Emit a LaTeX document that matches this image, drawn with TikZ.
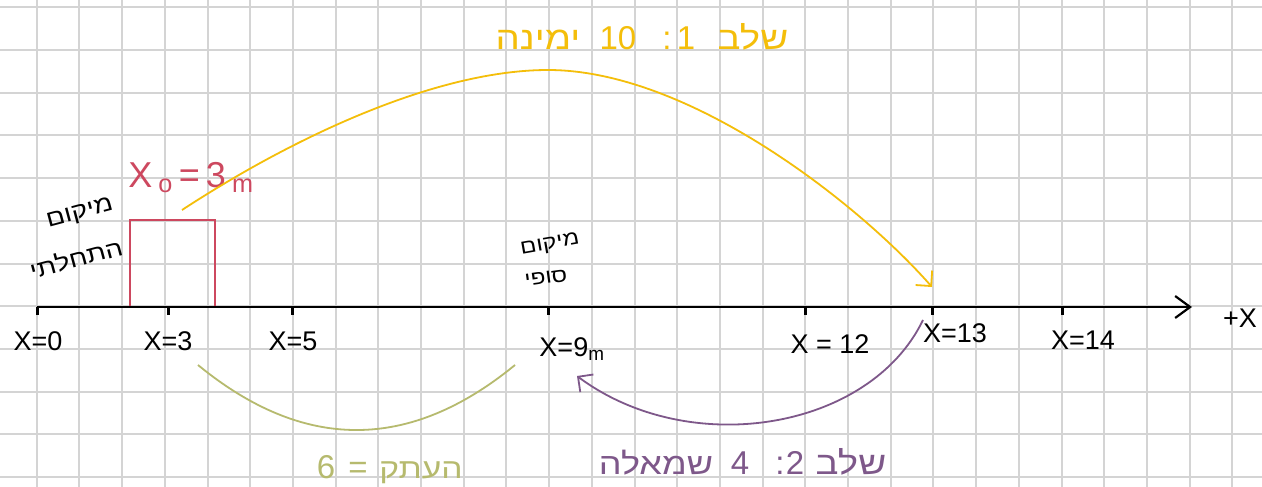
\documentclass[tikz,border=0pt]{standalone}
\usepackage{fontspec}
\setmainfont{Liberation Sans}
\newfontfamily\hebw[Script=Hebrew,FakeStretch=1.2]{Liberation Sans}
\TeXXeTstate=1
\usetikzlibrary{arrows.meta}
\definecolor{gridc}{RGB}{212,212,212}
\definecolor{yel}{RGB}{244,190,10}
\definecolor{redc}{RGB}{205,72,95}
\definecolor{grn}{RGB}{182,186,110}
\definecolor{pur}{RGB}{126,88,138}
\begin{document}
\begin{tikzpicture}[x=1pt,y=-1pt,
  gridline/.style={draw=gridc,line width=2pt},
  axisline/.style={draw=black,line width=2.2pt},
  tickmark/.style={draw=black,line width=3pt},
  lbl/.style={inner sep=0pt,font=\fontsize{27}{29}\selectfont},
  heblbl/.style={inner sep=0pt,font=\hebw\fontsize{23}{26}\selectfont},
  tok/.style={inner sep=0pt,anchor=base,font=\fontsize{33}{35}\selectfont},
  htok/.style={inner sep=0pt,anchor=base,font=\hebw\fontsize{32}{35}\selectfont},
  curve/.style={line width=1.8pt},
  barb/.style={-{Straight Barb[length=11pt,width=22pt,line width=1.8pt]}},
]
\useasboundingbox (0,0) rectangle (1262,487);
\fill[white] (0,0) rectangle (1262,487);
% grid
\foreach \i in {0,...,28} \draw[gridline] ({36.7+42.7*\i},0) -- ({36.7+42.7*\i},487);
\foreach \j in {0,...,11} \draw[gridline] (0,{7.3+42.7*\j}) -- (1262,{7.3+42.7*\j});
% red box
\coordinate (bl) at (130,307);
\coordinate (tl) at (130,220);
\coordinate (tr) at (215,220);
\coordinate (br) at (215,307);
\draw[redc,line width=2pt] (bl) -- (tl) -- (tr) -- (br);
% axis
\coordinate (ax0) at (37,307);
\coordinate (axend) at (1192,307);
\draw[axisline,-{Straight Barb[length=15pt,width=22pt,line width=2.2pt]}] (ax0) -- (axend);
\foreach \p/\n in {37/t0,168/t3,292/t5,548/t9,805/t12,932/t13,1062/t14}{
  \coordinate (\n) at (\p,307);
  \draw[tickmark] (\n) -- ++(0,8);
}
% axis labels
\node[lbl] (l0) at (38,341) {X=0};
\node[lbl] (l3) at (168,341) {X=3};
\node[lbl] (l5) at (293,341) {X=5};
\node[lbl] (l9) at (572,349) {X=9\textsubscript{m}};
\node[lbl] (l12) at (830,344) {X = 12};
\node[lbl] (l13) at (955,333) {X=13};
\node[lbl] (l14) at (1083,340) {X=14};
\node[lbl] (lx) at (1240,318) {+X};
% red label
\node[inner sep=0pt,text=redc,font=\fontsize{36}{38}\selectfont] (x0) at (191,178) {X\,\textsubscript{o}\,=\,3\,\textsubscript{m}};
% hebrew position labels
\node[heblbl,rotate=15] (init1) at (80,214) {\beginR מיקום\endR};
\node[heblbl,rotate=15] (init2) at (76,258) {\beginR התחלתי\endR};
\node[heblbl,rotate=10,font=\hebw\fontsize{20}{24}\selectfont] (fin1) at (550,245) {\beginR מיקום\endR};
\node[heblbl,rotate=8,font=\hebw\fontsize{20}{24}\selectfont] (fin2) at (546,278) {\beginR סופי\endR};
% yellow arc
\coordinate (ys) at (182,210);
\coordinate (ypk) at (548,70);
\coordinate (ye) at (932,287);
\draw[yel,curve,barb] (ys) .. controls (300,133) and (440,70) .. (ypk) .. controls (690,70) and (860,205) .. (ye);
\begin{scope}[every node/.append style={text=yel}]
\node[htok] (y1) at (538,50) {\beginR ימינה\endR};
\node[tok] (y2) at (618,50) {10};
\node[tok] (y3) at (667,50) {:};
\node[tok] (y4) at (686,50) {1};
\node[htok] (y5) at (753,50) {\beginR שלב\endR};
\end{scope}
% green arc
\coordinate (gs) at (198,365);
\coordinate (ge) at (515,365);
\draw[grn,curve] (gs) .. controls (303.7,451.7) and (409.3,451.7) .. (ge);
\begin{scope}[every node/.append style={text=grn}]
\node[tok] (g1) at (326,478) {6};
\node[tok] (g2) at (358,478) {=};
\node[htok,font=\hebw\fontsize{28}{31}\selectfont] (g3) at (421,478) {\beginR העתק\endR};
\end{scope}
% purple arc
\coordinate (ps) at (923,320);
\coordinate (pe) at (577,376);
\draw[pur,curve,barb] (ps) .. controls (870,430) and (690,460) .. (pe);
\begin{scope}[every node/.append style={text=pur}]
\node[htok,font=\hebw\fontsize{30}{33}\selectfont] (p1) at (656,474) {\beginR שמאלה\endR};
\node[tok] (p2) at (740,474) {4};
\node[tok] (p3) at (780,474) {:};
\node[tok] (p4) at (795,474) {2};
\node[htok] (p5) at (851,474) {\beginR שלב\endR};
\end{scope}
\end{tikzpicture}
\end{document}
